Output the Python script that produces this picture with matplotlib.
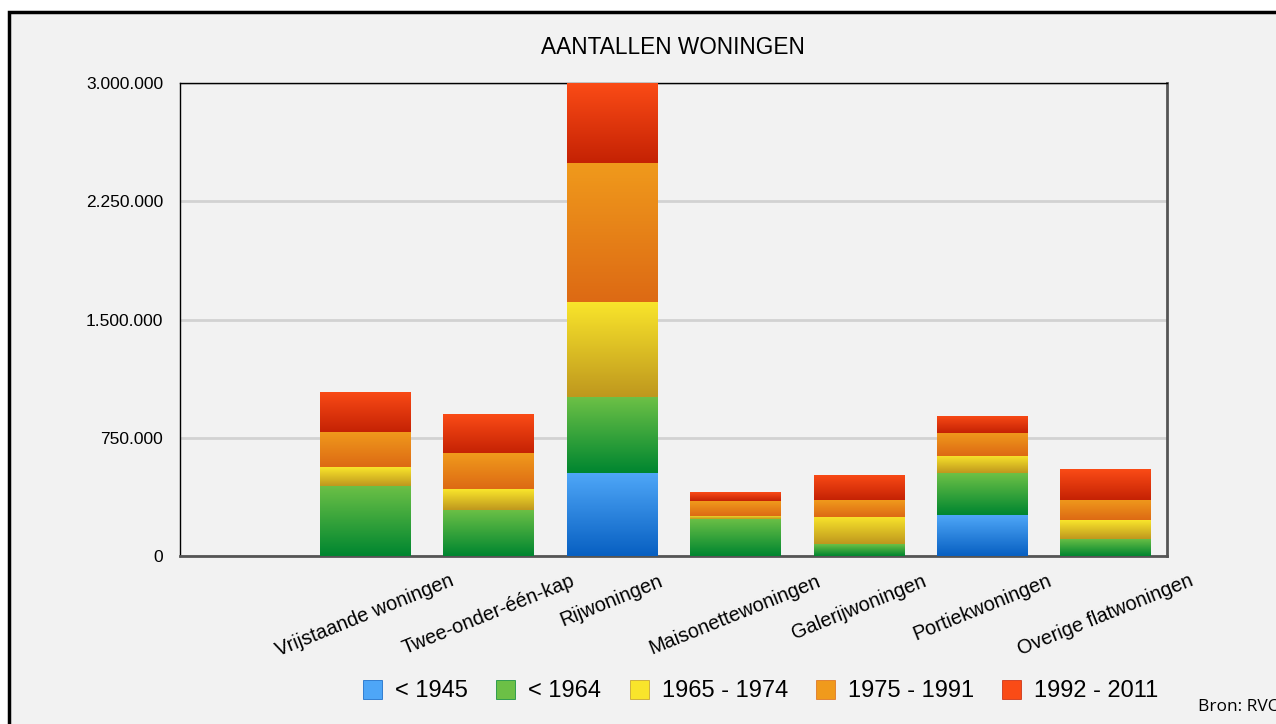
import numpy as np
import matplotlib
matplotlib.use('Agg')
from matplotlib import pyplot as plt
from matplotlib.colors import LinearSegmentedColormap
from matplotlib.patches import Rectangle, Patch
from matplotlib.ticker import FuncFormatter

plt.rcParams['font.family'] = ['Liberation Sans', 'DejaVu Sans']

categories = ['Vrijstaande woningen', 'Twee-onder-één-kap', 'Rijwoningen',
              'Maisonettewoningen', 'Galerijwoningen', 'Portiekwoningen',
              'Overige flatwoningen']
periods = ['< 1945', '< 1964', '1965 - 1974', '1975 - 1991', '1992 - 2011']

before_1945 = [0, 0, 526000, 0, 0, 260000, 0]
before_1964 = [444000, 292000, 482000, 235000, 76000, 266000, 108000]
p1965_1974 = [120000, 133000, 603000, 21000, 173000, 108000, 120000]
p1975_1991 = [222000, 228000, 882000, 95000, 106000, 146000, 127000]
p1992_2011 = [254000, 247000, 507000, 57000, 159000, 108000, 195000]
series = [before_1945, before_1964, p1965_1974, p1975_1991, p1992_2011]

# (top colour, bottom colour) of each gradient
colours = [('#4ea6f7', '#0860c2'),
           ('#6cc046', '#008630'),
           ('#f9e52b', '#bf981e'),
           ('#f09a1c', '#dd6a14'),
           ('#fa4b16', '#c52204')]

fig = plt.figure(figsize=(12.76, 7.24), dpi=100)
fig.patch.set_facecolor('white')
# grey panel with heavy black border, running off the right and bottom
fig.patches.append(Rectangle((9 / 1276, -0.05), 1.2, 1 - 12 / 724 + 0.05,
                             transform=fig.transFigure, facecolor='#f2f2f2',
                             edgecolor='black', linewidth=2.5, zorder=-1))

ax = fig.add_axes([180 / 1276, 1 - 556 / 724, 987 / 1276, 473 / 724])
ax.set_facecolor('#f2f2f2')

x = np.arange(1, len(categories) + 1)
bottom = np.zeros(len(categories))
for vals, (c_top, c_bot), label in zip(series, colours, periods):
    bars = ax.bar(x, vals, 0.73, bottom=bottom, color=c_bot,
                  linewidth=0, zorder=2)
    cmap = LinearSegmentedColormap.from_list(label, [c_top, c_bot])
    grad = np.linspace(0, 1, 64).reshape(-1, 1)
    for b in bars:
        if b.get_height() <= 0:
            continue
        im = ax.imshow(grad, cmap=cmap, aspect='auto', origin='upper',
                       extent=(b.get_x(), b.get_x() + b.get_width(),
                               b.get_y(), b.get_y() + b.get_height()),
                       zorder=3, interpolation='bilinear')
        im.set_clip_path(b)
    bottom += np.array(vals)

ax.set_xlim(-0.5, 7.5)
ax.set_ylim(0, 3000000)
ax.set_yticks([0, 750000, 1500000, 2250000, 3000000])
ax.yaxis.set_major_formatter(FuncFormatter(lambda v, p: f'{int(v):,}'.replace(',', '.')))
ax.grid(axis='y', color='#d2d2d2', linewidth=2, zorder=1)
ax.set_axisbelow(True)
ax.set_xticks(x)
ax.set_xticklabels(categories, rotation=22, ha='center', fontsize=14.3)
ax.tick_params(axis='x', length=0, pad=11)
ax.tick_params(axis='y', length=0, pad=12, labelsize=12.5)

ax.spines['top'].set_color('black')
ax.spines['left'].set_color('black')
ax.spines['top'].set_linewidth(1)
ax.spines['left'].set_linewidth(1)
ax.spines['right'].set_color('#555555')
ax.spines['bottom'].set_color('#555555')
ax.spines['right'].set_linewidth(2)
ax.spines['bottom'].set_linewidth(2)

fig.text(673 / 1276, 1 - 47 / 724, 'AANTALLEN WONINGEN', ha='center',
         va='center', fontsize=16.3)

handles = [Patch(facecolor=c_top, edgecolor=c_bot, linewidth=0.5)
           for c_top, c_bot in colours]
fig.legend(handles, periods, loc='center', bbox_to_anchor=(761 / 1276, 1 - 691 / 724),
           ncol=5, frameon=False, fontsize=17, handlelength=0.8,
           handleheight=0.85, handletextpad=0.55, columnspacing=1.2)

fig.text(1198 / 1276, 1 - 707 / 724, 'Bron: RVO', ha='left', va='center',
         fontsize=12.5, family=['Open Sans', 'DejaVu Sans'])

fig.savefig('out.png', dpi=100, facecolor=fig.get_facecolor())
